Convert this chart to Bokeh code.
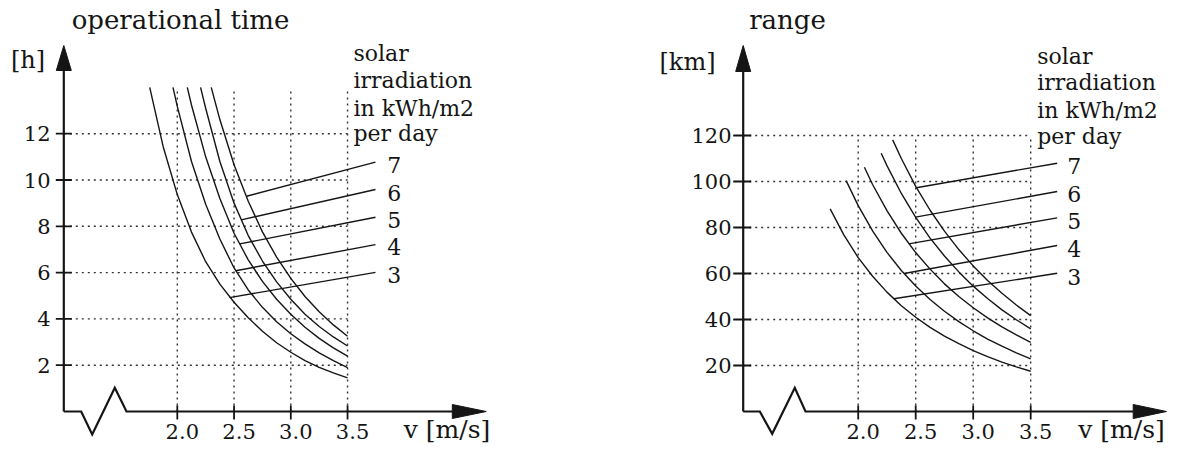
from bokeh.plotting import figure
from bokeh.layouts import row
from bokeh.embed import file_html
from bokeh.resources import INLINE
from bokeh.core.properties import value

# ---------------- data ----------------
irradiation = [7, 6, 5, 4, 3]
v_ticks = [2.0, 2.5, 3.0, 3.5]
v_tick_labels = ["2.0", "2.5", "3.0", "3.5"]
time_ticks = [2, 4, 6, 8, 10, 12]
range_ticks = [20, 40, 60, 80, 100, 120]

# operational time [h] vs v [m/s]
time_v_3 = [1.757, 1.875, 2.0, 2.125, 2.25, 2.375, 2.5, 2.625, 2.75, 2.875, 3.0, 3.125, 3.25, 3.375, 3.5]
time_h_3 = [14.0, 11.45, 9.37, 7.75, 6.47, 5.5, 4.72, 4.05, 3.47, 2.97, 2.56, 2.2, 1.91, 1.67, 1.45]
time_v_4 = [1.962, 2.0, 2.125, 2.25, 2.375, 2.5, 2.625, 2.75, 2.875, 3.0, 3.125, 3.25, 3.375, 3.5]
time_h_4 = [14.0, 13.18, 10.8, 8.95, 7.45, 6.2, 5.25, 4.5, 3.88, 3.36, 2.92, 2.53, 2.2, 1.9]
time_v_5 = [2.088, 2.125, 2.25, 2.375, 2.5, 2.625, 2.75, 2.875, 3.0, 3.125, 3.25, 3.375, 3.5]
time_h_5 = [14.0, 13.24, 11.0, 9.2, 7.7, 6.55, 5.62, 4.85, 4.2, 3.64, 3.16, 2.75, 2.39]
time_v_6 = [2.205, 2.25, 2.375, 2.5, 2.625, 2.75, 2.875, 3.0, 3.125, 3.25, 3.375, 3.5]
time_h_6 = [14.0, 13.1, 10.8, 9.0, 7.6, 6.5, 5.6, 4.85, 4.2, 3.67, 3.22, 2.83]
time_v_7 = [2.299, 2.375, 2.5, 2.625, 2.75, 2.875, 3.0, 3.125, 3.25, 3.375, 3.5]
time_h_7 = [14.0, 12.61, 10.66, 9.08, 7.76, 6.67, 5.75, 4.97, 4.31, 3.74, 3.25]

# range [km] vs v [m/s]
range_v_3 = [1.756, 1.875, 2.0, 2.125, 2.25, 2.375, 2.5, 2.625, 2.75, 2.875, 3.0, 3.125, 3.25, 3.375, 3.5]
range_km_3 = [88.1, 76.8, 66.9, 58.8, 51.9, 46.0, 41.0, 36.6, 32.8, 29.5, 26.5, 23.9, 21.5, 19.4, 17.5]
range_v_4 = [1.895, 2.0, 2.125, 2.25, 2.375, 2.5, 2.625, 2.75, 2.875, 3.0, 3.125, 3.25, 3.375, 3.5]
range_km_4 = [100.4, 89.5, 78.5, 69.2, 61.3, 54.6, 48.7, 43.6, 39.1, 35.1, 31.5, 28.4, 25.5, 22.9]
range_v_5 = [2.054, 2.125, 2.25, 2.375, 2.5, 2.625, 2.75, 2.875, 3.0, 3.125, 3.25, 3.375, 3.5]
range_km_5 = [106.2, 98.7, 87.3, 77.5, 69.1, 61.9, 55.5, 50.0, 45.1, 40.7, 36.8, 33.3, 30.1]
range_v_6 = [2.2, 2.25, 2.375, 2.5, 2.625, 2.75, 2.875, 3.0, 3.125, 3.25, 3.375, 3.5]
range_km_6 = [112.3, 106.9, 94.8, 84.4, 75.4, 67.6, 60.7, 54.5, 49.1, 44.2, 39.9, 35.9]
range_v_7 = [2.3, 2.375, 2.5, 2.625, 2.75, 2.875, 3.0, 3.125, 3.25, 3.375, 3.5]
range_km_7 = [118.1, 110.0, 97.9, 87.5, 78.4, 70.4, 63.3, 57.0, 51.4, 46.3, 41.7]

# leader lines from curves (7,6,5,4,3) to the labels
time_lead_v0 = [2.61, 2.563, 2.55, 2.515, 2.46]
time_lead_h0 = [9.3, 8.28, 7.24, 6.08, 4.92]
time_lead_v1 = [3.746, 3.746, 3.746, 3.746, 3.746]
time_lead_h1 = [10.77, 9.59, 8.39, 7.21, 6.01]
range_lead_v0 = [2.505, 2.498, 2.44, 2.40, 2.31]
range_lead_km0 = [97.3, 84.5, 72.9, 60.0, 49.0]
range_lead_v1 = [3.73, 3.73, 3.73, 3.73, 3.73]
range_lead_km1 = [107.96, 95.65, 84.2, 72.17, 60.1]

legend_lines = ["solar", "irradiation", "in kWh/m2", "per day"]

# ---------------- styling ----------------
FONT = "DejaVu Serif"
INK = "#151515"
H = 444
BASE_PY = 411.0


def panel(spec):
    ref_left, w, axis_px, sx, sy = spec["ref_left"], spec["w"], spec["axis_px"], spec["sx"], spec["sy"]

    def X(px):
        return 1.0 + (px - axis_px) / sx

    def Y(py):
        return (BASE_PY - py) / sy

    p = figure(width=w, height=H, x_range=(X(ref_left), X(ref_left + w)),
               y_range=(Y(H), Y(0)), output_backend="svg", toolbar_location=None,
               min_border=0, x_axis_type=None, y_axis_type=None)
    p.outline_line_color = None
    p.background_fill_color = "white"
    p.border_fill_color = "white"

    ticks = spec["yticks"]
    top = spec["grid_top"]
    # dotted grid
    p.segment(x0=[1.0] * len(ticks), y0=ticks, x1=[3.5] * len(ticks), y1=ticks,
              line_color="#333333", line_width=1.4, line_dash="2 4")
    p.segment(x0=v_ticks, y0=[0] * 4, x1=v_ticks, y1=[top] * 4,
              line_color="#333333", line_width=1.4, line_dash="2 4")

    # axes
    ytip, ybase = spec["ytip"], spec["ybase"]
    p.line([1.0, 1.0], [0, Y(ybase)], line_color=INK, line_width=2.2)
    hw = 7.5 / sx
    p.patch([1.0 - hw, 1.0, 1.0 + hw], [Y(ybase), Y(ytip), Y(ybase)], color=INK)
    zz = spec["zigzag"]
    xtip, xbase = spec["xtip"], spec["xbase"]
    p.line([1.0, X(zz[0][0]), X(zz[1][0]), X(zz[2][0]), X(zz[3][0]), X(xbase)],
           [0, 0, Y(zz[1][1]), Y(zz[2][1]), 0, 0], line_color=INK, line_width=2.2,
           line_join="miter")
    hh = 7.0 / sy
    p.patch([X(xbase), X(xtip), X(xbase)], [hh, 0, -hh], color=INK)

    # tick marks
    p.segment(x0=[1.0 - spec["ytick_out"] / sx] * len(ticks), y0=ticks,
              x1=[1.0 + 8 / sx] * len(ticks), y1=ticks, line_color=INK, line_width=1.8)
    p.segment(x0=v_ticks, y0=[-8 / sy] * 4, x1=v_ticks, y1=[6 / sy] * 4,
              line_color=INK, line_width=1.8)

    common = dict(text_font=value(FONT), text_color=INK, text_baseline="alphabetic")
    # y tick labels (y = visual centre)
    p.text(x=[X(spec["ylab_right"])] * len(ticks), y=ticks,
           text=[str(t) for t in ticks], text_align="right",
           text_font_size=value("21px"), **common)
    # x tick labels
    p.text(x=[v + 5 / sx for v in v_ticks], y=[Y(431)] * 4, text=v_tick_labels,
           text_align="center", text_font_size=value("21px"), **common)
    # axis titles
    p.text(x=[X(spec["vlab_cx"])], y=[Y(429)], text=["v [m/s]"], text_align="center",
           text_font_size=value("25px"), **common)
    p.text(x=[X(spec["unit_cx"])], y=[Y(spec["unit_y"])], text=[spec["unit"]],
           text_align="center", text_font_size=value("24px"), **common)
    p.text(x=[X(spec["title_cx"])], y=[Y(19)], text=[spec["title"]],
           text_align="center", text_font_size=value("26px"), **common)

    # curves
    for vs, ys in spec["curves"]:
        p.line(vs, ys, line_color=INK, line_width=1.4)

    # leader lines and labels
    l0x, l0y, l1x, l1y = spec["leads"]
    p.segment(x0=l0x, y0=l0y, x1=l1x, y1=l1y, line_color=INK, line_width=1.4)
    p.text(x=[X(spec["num_left"])] * 5, y=[Y(b) for b in spec["num_y"]],
           text=[str(k) for k in irradiation], text_align="left",
           text_font_size=value("22px"), **common)
    p.text(x=[X(spec["leg_left"])] * 4, y=[Y(b) for b in spec["leg_y"]],
           text=legend_lines, text_align="left",
           text_font_size=value("22px"), **common)
    return p


left = panel(dict(
    ref_left=0, w=588, axis_px=63.3, sx=113.5, sy=23.15,
    yticks=time_ticks, grid_top=14, ytick_out=8,
    ytip=45, ybase=70, xtip=485.7, xbase=451.8,
    zigzag=[(80.7, 411), (91.7, 434), (114.3, 387.3), (126, 411)],
    ylab_right=50, vlab_cx=446.5,
    unit="[h]", unit_cx=27.5, unit_y=59.5,
    title="operational time", title_cx=180,
    curves=[(time_v_3, time_h_3), (time_v_4, time_h_4), (time_v_5, time_h_5),
            (time_v_6, time_h_6), (time_v_7, time_h_7)],
    leads=(time_lead_v0, time_lead_h0, time_lead_v1, time_lead_h1),
    num_left=386.7, num_y=[164, 192, 219.5, 246.7, 274],
    leg_left=353, leg_y=[53, 79.7, 108, 133],
))

right = panel(dict(
    ref_left=588, w=586, axis_px=742.7, sx=115.0, sy=2.3,
    yticks=range_ticks, grid_top=120, ytick_out=10,
    ytip=45, ybase=71, xtip=1166, xbase=1132.7,
    zigzag=[(759.3, 411), (771.7, 433.3), (794.3, 387.3), (805, 411)],
    ylab_right=731, vlab_cx=1121,
    unit="[km]", unit_cx=687, unit_y=61.5,
    title="range", title_cx=787,
    curves=[(range_v_3, range_km_3), (range_v_4, range_km_4), (range_v_5, range_km_5),
            (range_v_6, range_km_6), (range_v_7, range_km_7)],
    leads=(range_lead_v0, range_lead_km0, range_lead_v1, range_lead_km1),
    num_left=1066.7, num_y=[165.8, 193.7, 220.8, 248.3, 276],
    leg_left=1036.7, leg_y=[55.7, 82.3, 110.3, 136.3],
))

layout = row(left, right, spacing=0)
open("out.html", "w").write(file_html(layout, INLINE))
